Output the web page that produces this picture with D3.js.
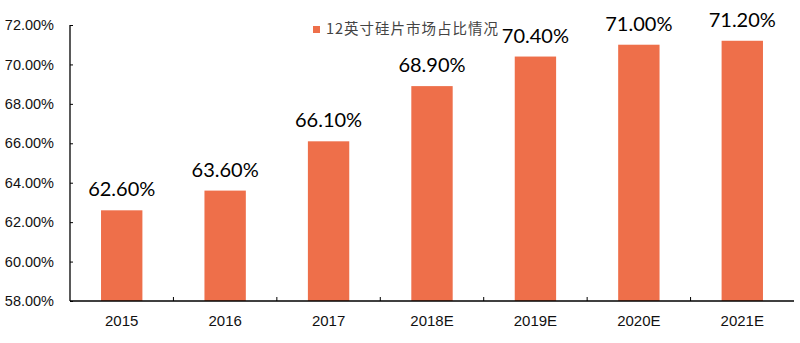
<!DOCTYPE html>
<html>
<head>
<meta charset="utf-8">
<script src="https://cdn.jsdelivr.net/npm/d3@7"></script>
<style>
  html, body { margin: 0; padding: 0; background: #fff; }
  svg { display: block; }
</style>
</head>
<body>
<svg id="chart" width="800" height="343"></svg>
<script>
// 12-inch wafer market share by year
const years = ["2015", "2016", "2017", "2018E", "2019E", "2020E", "2021E"];
const shares = [62.6, 63.6, 66.1, 68.9, 70.4, 71.0, 71.2];
const yTicks = [58, 60, 62, 64, 66, 68, 70, 72];
const seriesName = "12英寸硅片市场占比情况";

const barColor = "#EE6F4A";
const svg = d3.select("#chart");

const plot = { left: 70, right: 794, top: 25, bottom: 301 };

const x = d3.scaleBand()
  .domain(years)
  .range([plot.left, plot.right])
  .paddingInner(0.6)
  .paddingOuter(0.3);

const y = d3.scaleLinear()
  .domain([58, 72])
  .range([plot.bottom, plot.top]);

// bars
svg.append("g")
  .selectAll("rect")
  .data(years.map((yr, i) => ({ yr, v: shares[i] })))
  .join("rect")
  .attr("x", d => x(d.yr))
  .attr("y", d => y(d.v))
  .attr("width", x.bandwidth())
  .attr("height", d => y(58) - y(d.v))
  .attr("fill", barColor);

// y axis
const yAxis = svg.append("g")
  .attr("transform", `translate(${plot.left},0)`)
  .call(d3.axisLeft(y).tickValues(yTicks).tickSize(-3).tickPadding(16)
    .tickFormat(d => d.toFixed(2) + "%"));
yAxis.select(".domain").attr("stroke", "#000").attr("stroke-width", 1.3)
  .attr("d", `M0,${plot.top}V${plot.bottom}`);
yAxis.selectAll(".tick line").attr("stroke", "#000");
yAxis.selectAll(".tick text")
  .attr("font-family", "'Liberation Sans', Arial, sans-serif")
  .attr("font-size", 14.5)
  .attr("fill", "#111");

// x axis with inward ticks on the band boundaries
const xAxisG = svg.append("g")
  .attr("transform", `translate(0,${plot.bottom})`);
xAxisG.append("line")
  .attr("x1", plot.left).attr("x2", plot.right)
  .attr("y1", 0).attr("y2", 0)
  .attr("stroke", "#000").attr("stroke-width", 1.3);
const boundaries = d3.range(1, years.length).map(i => plot.left + (plot.right - plot.left) * i / years.length);
xAxisG.selectAll("line.tk")
  .data(boundaries)
  .join("line")
  .attr("class", "tk")
  .attr("x1", d => d).attr("x2", d => d)
  .attr("y1", 0).attr("y2", -4)
  .attr("stroke", "#000");
xAxisG.selectAll("text")
  .data(years)
  .join("text")
  .attr("x", d => x(d) + x.bandwidth() / 2)
  .attr("y", 25)
  .attr("text-anchor", "middle")
  .attr("font-family", "'Liberation Sans', Arial, sans-serif")
  .attr("font-size", 15)
  .attr("fill", "#111")
  .text(d => d);

// value labels above bars
svg.append("g")
  .selectAll("text")
  .data(years.map((yr, i) => ({ yr, v: shares[i] })))
  .join("text")
  .attr("x", d => x(d.yr) + x.bandwidth() / 2)
  .attr("y", d => y(d.v) - 14)
  .attr("text-anchor", "middle")
  .attr("font-family", "Lato, 'Open Sans', sans-serif")
  .attr("font-size", 20)
  .attr("fill", "#000")
  .text(d => d.v.toFixed(2) + "%");

// legend
const legend = svg.append("g").attr("transform", "translate(313,26)");
legend.append("rect").attr("x", 0).attr("y", 0).attr("width", 7).attr("height", 7).attr("fill", barColor);
legend.append("text")
  .attr("x", 13).attr("y", 8)
  .attr("font-family", "'Noto Sans CJK SC', sans-serif")
  .attr("font-size", 14.5)
  .attr("letter-spacing", 1)
  .attr("fill", "#444")
  .text(seriesName);
</script>
</body>
</html>
